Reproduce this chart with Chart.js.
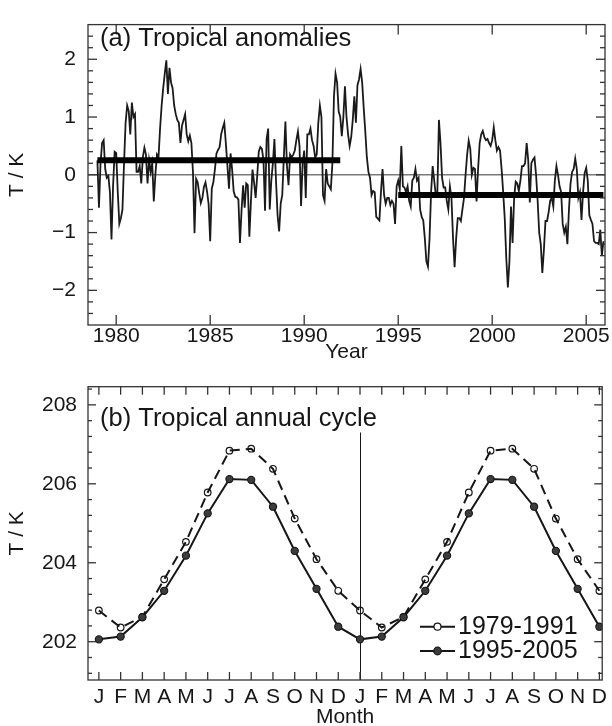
<!DOCTYPE html>
<html>
<head>
<meta charset="utf-8">
<script src="https://cdn.jsdelivr.net/npm/chart.js@4.4.1/dist/chart.umd.min.js"></script>
<style>
  html, body { margin: 0; padding: 0; background: #fff; overflow: hidden; }
  #wrap { position: relative; width: 612px; height: 726px; }
  canvas { position: absolute; left: 0; }
  #topChart { top: 0; }
  #bottomChart { top: 362px; }
</style>
</head>
<body>
<div id="wrap">
  <canvas id="topChart" width="612" height="368"></canvas>
  <canvas id="bottomChart" width="612" height="364"></canvas>
</div>
<script>
// (a) monthly tropical anomalies (K), Jan 1979 .. Dec 2005, one row per year
var startYear = 1979;
var monthlyAnomaly = [
  0.25, -0.57, 0.2, 0.55, 0.6, 0.1, -0.05, -0.02, -0.3, -1.12, -0.2, 0.4,        // 1979
  0.38, -0.3, -0.85, -0.75, -0.6, 0.2, 0.9, 1.2, 1.1, 0.7, 1.25, 1.0,             // 1980
  1.05, 0.05, 0.05, 0.15, -0.15, 0.3, 0.47, 0.35, -0.15, 0.25, 0.05, 0.2,         // 1981
  -0.46, 0.0, 0.35, 0.3, 0.8, 1.2, 1.5, 1.75, 1.98, 1.4, 1.85, 1.6,               // 1982
  1.5, 1.2, 1.05, 0.95, 0.9, 0.55, 0.85, 0.95, 1.05, 0.7, 0.58, 0.68,             // 1983
  0.55, 0.05, -1.01, -0.07, -0.13, -0.32, -0.49, -0.4, -0.21, -0.13, -0.29, -0.51, // 1984
  -1.15, -0.24, -0.13, 0.09, 0.37, 0.43, 0.48, 0.7, 0.81, 0.9, 0.54, 0.15,        // 1985
  -0.24, 0.37, 0.09, -0.29, -0.38, -0.39, -0.43, -1.18, -0.62, -0.18, -0.57, -0.15, // 1986
  -0.18, -1.07, -0.46, 0.09, -0.13, -0.4, -0.02, 0.4, 0.48, 0.45, 0.26, -0.62,    // 1987
  0.62, 0.8, -0.6, -0.1, 0.2, 0.62, -0.1, -0.7, -0.98, -0.5, -0.35, 0.3,          // 1988
  0.92, 0.15, -0.18, 0.35, 0.3, 0.35, 0.42, 0.6, 0.75, 0.5, -0.54, 0.2,           // 1989
  0.42, -0.4, 0.7, 0.7, 0.8, 0.6, 0.5, 0.3, 0.35, 0.9, 1.2, 1.0,                  // 1990
  -0.35, -0.45, 0.1, -0.15, -0.2, -0.25, 0.2, 1.36, 1.75, 1.6, 1.1, 1.0,          // 1991
  0.67, 1.0, 1.53, 1.0, 0.7, 0.5, 0.65, 0.95, 1.36, 0.9, 1.55, 1.65,              // 1992
  1.83, 1.6, 1.15, 0.75, 0.3, 0.05, -0.05, -0.35, -0.28, -0.3, -0.73, -0.76,      // 1993
  -0.79, -0.3, 0.1, -0.35, -0.5, -0.4, -0.4, -0.52, -0.45, -0.5, -0.85, -0.2,     // 1994
  -0.1, -0.25, 0.5, -0.2, -0.22, -0.3, -0.2, -0.45, -0.55, -0.1, -0.05, 0.1,      // 1995
  -0.1, -0.05, -0.6, -0.73, -0.79, -1.1, -1.5, -1.59, -1.1, -0.3, 0.15, -0.1,     // 1996
  -0.35, -0.3, 0.95, 0.55, -0.05, -0.22, -0.22, -0.45, -0.6, -0.2, -0.4, -1.1,    // 1997
  -1.6, -1.1, -0.75, -0.75, -0.8, -0.6, -0.4, 0.0, 0.35, 0.59, 0.45, 0.0,         // 1998
  0.12, 0.1, -0.46, 0.1, 0.55, 0.7, 0.76, 0.65, 0.6, 0.62, 0.55, 0.5,             // 1999
  0.6, 0.82, 0.6, 0.42, 0.48, 0.42, 0.1, -0.3, -0.75, -1.45, -1.95, -1.5,         // 2000
  -0.55, -1.18, -0.4, -0.12, -0.15, -0.28, -0.1, 0.15, 0.15, 0.2, 0.55, 0.25,     // 2001
  -0.48, 0.2, 0.26, 0.3, 0.0, -0.45, -1.0, -1.2, -1.7, -1.3, -0.8, -0.8,          // 2002
  -0.65, -0.45, -0.4, -0.55, -0.1, 0.15, 0.0, -0.2, -0.3, -0.85, -1.0, -0.9,      // 2003
  -1.2, -0.6, -0.15, 0.05, 0.1, 0.28, 0.1, -0.4, -0.3, -0.78, -0.3, 0.03,         // 2004
  0.12, -0.1, -0.7, -0.78, -0.85, -1.15, -1.18, -1.18, -1.2, -0.95, -1.4, -1.15   // 2005
];
var periods = [[1979, 1991], [1995, 2005]];
var periodLabels = ['1979-1991', '1995-2005'];
var periodMeans = [0.25, -0.35];
var yearTicks = [1980, 1985, 1990, 1995, 2000, 2005];
var anomalyTicks = [-2, -1, 0, 1, 2];

// (b) mean annual cycle (K) for the two periods
var monthLabels = ['J', 'F', 'M', 'A', 'M', 'J', 'J', 'A', 'S', 'O', 'N', 'D'];
var cycleEarly = [202.79, 202.36, 202.63, 203.58, 204.53, 205.78, 206.84, 206.89, 206.38, 205.12, 204.09, 203.29];
var cycleLate = [202.06, 202.13, 202.62, 203.29, 204.18, 205.25, 206.12, 206.10, 205.42, 204.30, 203.34, 202.38];
var cycleTicks = [202, 204, 206, 208];

var FONT = '"Liberation Sans", Arial, Helvetica, sans-serif';
var INK = '#161616';

function stepTicks(lo, hi, step, skip) {
  var out = [];
  for (var n = Math.ceil(lo / step + 1e-9); n * step < hi - 1e-9; n++) {
    var v = +(n * step).toFixed(6);
    if (skip.indexOf(v) < 0) out.push(v);
  }
  return out;
}
function minusLabel(v) { return v < 0 ? '\u2212' + Math.abs(v) : String(v); }

// box, inward ticks, reference lines, panel title and legend
var framePlugin = {
  id: 'frame',
  beforeDatasetsDraw: function(chart, args, o) {
    var ctx = chart.ctx, a = chart.chartArea, xs = chart.scales.x, ys = chart.scales.y;
    ctx.save();
    if (o.zeroLine) {
      var y0 = ys.getPixelForValue(0);
      ctx.strokeStyle = '#7a7a7a'; ctx.lineWidth = 1.4;
      ctx.beginPath(); ctx.moveTo(a.left, y0); ctx.lineTo(a.right, y0); ctx.stroke();
    }
    if (o.vline) {
      var xv = Math.round(xs.getPixelForValue(o.vline.x)) + 0.5;
      ctx.strokeStyle = INK; ctx.lineWidth = 1;
      ctx.beginPath(); ctx.moveTo(xv, ys.getPixelForValue(o.vline.from)); ctx.lineTo(xv, a.bottom); ctx.stroke();
    }
    ctx.restore();
  },
  afterDraw: function(chart, args, o) {
    var ctx = chart.ctx, a = chart.chartArea, xs = chart.scales.x, ys = chart.scales.y;
    ctx.save();
    ctx.strokeStyle = '#333'; ctx.lineWidth = 1.3;
    ctx.strokeRect(a.left, a.top, a.right - a.left, a.bottom - a.top);
    function seg(x1, y1, x2, y2) { ctx.beginPath(); ctx.moveTo(x1, y1); ctx.lineTo(x2, y2); ctx.stroke(); }
    o.xMajor.forEach(function(v) {
      var p = xs.getPixelForValue(v);
      seg(p, a.bottom, p, a.bottom - o.xLen); seg(p, a.top, p, a.top + o.xLen);
    });
    o.yMajor.forEach(function(v) {
      var p = ys.getPixelForValue(v);
      seg(a.left, p, a.left + o.yLen, p); seg(a.right, p, a.right - o.yLen, p);
    });
    o.yMinor.forEach(function(v) {
      var p = ys.getPixelForValue(v);
      seg(a.left, p, a.left + o.yMinorLen, p); seg(a.right, p, a.right - o.yMinorLen, p);
    });
    ctx.fillStyle = INK;
    ctx.font = '25.5px ' + FONT;
    ctx.textBaseline = 'alphabetic'; ctx.textAlign = 'left';
    ctx.fillText(o.title, o.titleX, o.titleY);
    if (o.legend) {
      var L = o.legend;
      ctx.font = '25px ' + FONT;
      ctx.textBaseline = 'middle';
      L.items.forEach(function(it, i) {
        var y = L.y + i * L.rowGap;
        ctx.strokeStyle = INK; ctx.lineWidth = 2;
        seg(L.x1, y, L.x2, y);
        ctx.beginPath(); ctx.arc((L.x1 + L.x2) / 2, y, it.r, 0, Math.PI * 2);
        ctx.fillStyle = it.fill; ctx.fill();
        ctx.lineWidth = 1.2; ctx.strokeStyle = INK; ctx.stroke();
        ctx.fillStyle = INK;
        ctx.fillText(it.label, L.textX, y);
      });
    }
    ctx.restore();
  }
};

function axisFont(size) { return { family: FONT, size: size }; }
var noGrid = { display: false, drawTicks: false };

// ---- panel (a)
var anomalyPoints = monthlyAnomaly.map(function(v, i) { return { x: startYear + i / 12, y: v }; });
function meanLine(k) {
  return [{ x: periods[k][0], y: periodMeans[k] }, { x: periods[k][1] + 11 / 12, y: periodMeans[k] }];
}

new Chart(document.getElementById('topChart'), {
  type: 'line',
  data: {
    datasets: [
      { data: meanLine(0), borderColor: '#000', borderWidth: 6, borderCapStyle: 'butt', pointRadius: 0, order: 0 },
      { data: meanLine(1), borderColor: '#000', borderWidth: 6, borderCapStyle: 'butt', pointRadius: 0, order: 0 },
      { data: anomalyPoints, borderColor: '#1a1a1a', borderWidth: 1.8, pointRadius: 0, order: 1 }
    ]
  },
  options: {
    responsive: false,
    animation: false,
    layout: { padding: { top: 12, right: 7, left: 0, bottom: 0 } },
    plugins: {
      legend: { display: false },
      tooltip: { enabled: false },
      frame: {
        xMajor: yearTicks, xLen: 10,
        yMajor: anomalyTicks, yLen: 9,
        yMinor: stepTicks(-2.6, 2.6, 0.2, anomalyTicks), yMinorLen: 5,
        zeroLine: true,
        title: '(a) Tropical anomalies', titleX: 100, titleY: 46
      }
    },
    scales: {
      x: {
        type: 'linear', min: 1978.5, max: 2006,
        grid: noGrid, border: { display: false },
        afterBuildTicks: function(s) { s.ticks = yearTicks.map(function(v) { return { value: v }; }); },
        afterFit: function(s) { s.height = 43; },
        ticks: { callback: function(v) { return String(v); }, font: axisFont(21), color: INK, padding: -1, maxRotation: 0, autoSkip: false },
        title: { display: true, text: 'Year', font: axisFont(21), color: INK, padding: { top: 0, bottom: 3 } }
      },
      y: {
        min: -2.6, max: 2.6,
        grid: noGrid, border: { display: false },
        afterBuildTicks: function(s) { s.ticks = anomalyTicks.map(function(v) { return { value: v }; }); },
        afterFit: function(s) { s.width = 88; },
        ticks: { callback: minusLabel, font: axisFont(21), color: INK, padding: 12 },
        title: { display: true, text: 'T / K', font: axisFont(21), color: INK, padding: { top: 5, bottom: 0 } }
      }
    }
  },
  plugins: [framePlugin]
});

// ---- panel (b)
var monthIndex = monthLabels.concat(monthLabels).map(function(m, i) { return i; });
function cyclePoints(arr) {
  return arr.concat(arr).map(function(v, i) { return { x: i, y: v }; });
}

new Chart(document.getElementById('bottomChart'), {
  type: 'line',
  data: {
    datasets: [
      { label: periodLabels[1], data: cyclePoints(cycleLate), borderColor: INK, borderWidth: 2,
        pointRadius: 3.6, pointBorderWidth: 1.1, pointBackgroundColor: '#3c3c3c', pointBorderColor: INK, order: 0 },
      { label: periodLabels[0], data: cyclePoints(cycleEarly), borderColor: INK, borderWidth: 2, borderDash: [10, 6],
        pointRadius: 3.3, pointBorderWidth: 1.2, pointBackgroundColor: 'rgba(255,255,255,0)', pointBorderColor: INK, order: 1 }
    ]
  },
  options: {
    responsive: false,
    animation: false,
    layout: { padding: { top: 24.7, right: 6, left: 0, bottom: 0 } },
    plugins: {
      legend: { display: false },
      tooltip: { enabled: false },
      frame: {
        xMajor: monthIndex, xLen: 8,
        yMajor: cycleTicks, yLen: 8,
        yMinor: stepTicks(201.03, 208.46, 0.4, cycleTicks), yMinorLen: 4,
        vline: { x: 12, from: 207.3 },
        title: '(b) Tropical annual cycle', titleX: 100, titleY: 64,
        legend: {
          x1: 420, x2: 455, textX: 458, y: 264.7, rowGap: 24.3,
          items: [
            { label: periodLabels[0], fill: '#fff', r: 3.5 },
            { label: periodLabels[1], fill: '#3c3c3c', r: 3.8 }
          ]
        }
      }
    },
    scales: {
      x: {
        type: 'linear', min: -0.5, max: 23.13,
        grid: noGrid, border: { display: false },
        afterBuildTicks: function(s) { s.ticks = monthIndex.map(function(v) { return { value: v }; }); },
        afterFit: function(s) { s.height = 46; },
        ticks: { callback: function(v) { return monthLabels[v % 12]; }, font: axisFont(21), color: INK, padding: 5, maxRotation: 0, autoSkip: false },
        title: { display: true, text: 'Month', font: { family: FONT, size: 21, lineHeight: 0.8 }, color: INK, padding: { top: 0, bottom: 0 } }
      },
      y: {
        min: 201.03, max: 208.46,
        grid: noGrid, border: { display: false },
        afterBuildTicks: function(s) { s.ticks = cycleTicks.map(function(v) { return { value: v }; }); },
        afterFit: function(s) { s.width = 88; },
        ticks: { font: axisFont(21), color: INK, padding: 11 },
        title: { display: true, text: 'T / K', font: axisFont(21), color: INK, padding: { top: 5, bottom: 0 } }
      }
    }
  },
  plugins: [framePlugin]
});
</script>
</body>
</html>
